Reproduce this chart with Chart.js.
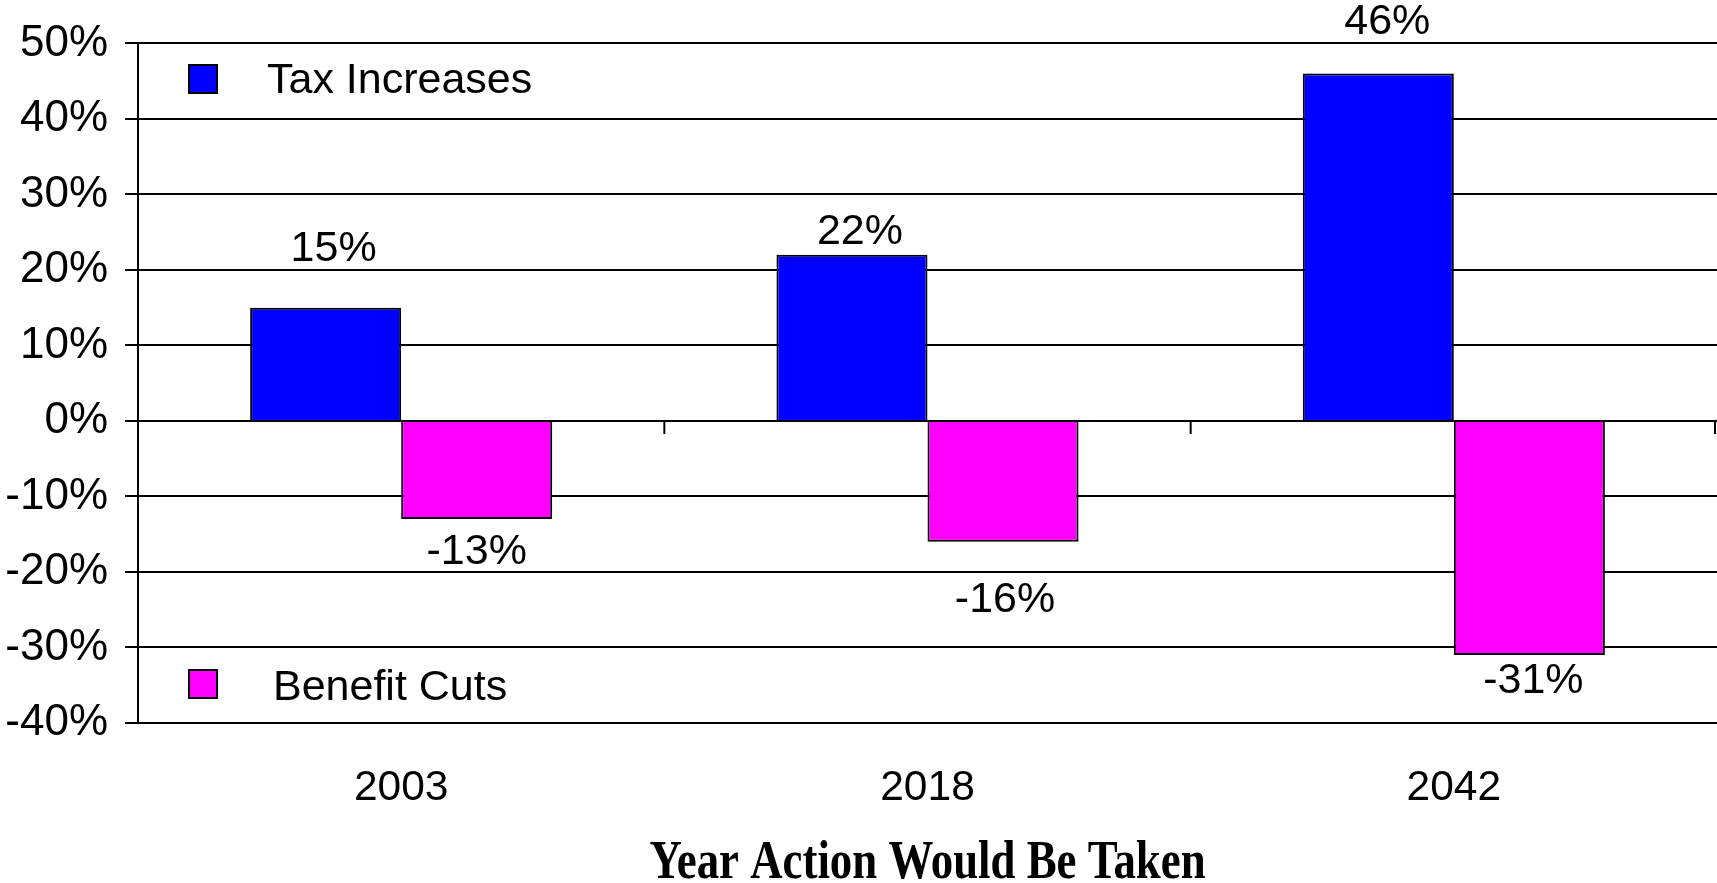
<!DOCTYPE html>
<html>
<head>
<meta charset="utf-8">
<script src="https://cdn.jsdelivr.net/npm/chart.js@4/dist/chart.umd.min.js"></script>
<style>
  html, body { margin: 0; padding: 0; background: #fff; }
</style>
</head>
<body>
<canvas id="chart" width="1717" height="883"></canvas>
<script>
// chart values
const years = ["2003", "2018", "2042"];
const taxIncreases = [15, 22, 46];
const benefitCuts = [-13, -16, -31];
const yTicks = [-40, -30, -20, -10, 0, 10, 20, 30, 40, 50];
const seriesNames = ["Tax Increases", "Benefit Cuts"];
const axisTitle = "Year Action Would Be Taken";

const sans = "'Liberation Sans', Arial, sans-serif";

// value labels, offset from the end of each bar (px)
const barLabels = {
    id: "barLabels",
    afterDatasetsDraw(chart, args, opts) {
        const ctx = chart.ctx;
        ctx.save();
        ctx.font = "43px " + sans;
        ctx.fillStyle = "#000";
        ctx.textAlign = "center";
        ctx.textBaseline = "middle";
        chart.data.datasets.forEach((ds, di) => {
            chart.getDatasetMeta(di).data.forEach((bar, i) => {
                const off = opts.offsets[di][i];
                ctx.fillText(ds.data[i] + "%", bar.x + off[0], bar.y + off[1]);
            });
        });
        ctx.restore();
    },
};

// small category tick marks hanging from the 0% line
const zeroTicks = {
    id: "zeroTicks",
    beforeDatasetsDraw(chart) {
        const { ctx, chartArea } = chart;
        const x = chart.scales.x;
        const y0 = chart.scales.y.getPixelForValue(0);
        const half = (x.getPixelForValue(1) - x.getPixelForValue(0)) / 2;
        ctx.save();
        ctx.strokeStyle = "#000";
        ctx.lineWidth = 2;
        years.forEach((yr, i) => {
            const px = Math.min(x.getPixelForValue(i) + half, chartArea.right - 2);
            ctx.beginPath();
            ctx.moveTo(px, y0);
            ctx.lineTo(px, y0 + 13);
            ctx.stroke();
        });
        ctx.restore();
    },
};

// legend entries sit inside the plot, one top-left and one bottom-left
const innerLegend = {
    id: "innerLegend",
    afterDraw(chart, args, opts) {
        const ctx = chart.ctx;
        ctx.save();
        ctx.font = "43px " + sans;
        ctx.textBaseline = "middle";
        ctx.textAlign = "left";
        chart.data.datasets.forEach((ds, di) => {
            const p = opts.items[di];
            ctx.fillStyle = ds.backgroundColor;
            ctx.fillRect(p.box[0], p.box[1], 28, 28);
            ctx.strokeStyle = "#000";
            ctx.lineWidth = 2;
            ctx.strokeRect(p.box[0], p.box[1], 28, 28);
            ctx.fillStyle = "#000";
            ctx.fillText(ds.label, p.text[0], p.text[1]);
        });
        ctx.restore();
    },
};

// bold serif axis title, squeezed like the original
const xTitle = {
    id: "xTitle",
    afterDraw(chart) {
        const { ctx, chartArea } = chart;
        const cx = (chartArea.left + chartArea.right) / 2;
        ctx.save();
        ctx.font = "bold 54px 'Liberation Serif', 'Times New Roman', serif";
        ctx.fillStyle = "#000";
        ctx.textAlign = "center";
        ctx.textBaseline = "alphabetic";
        ctx.translate(cx, 878);
        ctx.scale(0.83, 1);
        ctx.fillText(axisTitle, 0, 0);
        ctx.restore();
    },
};

const ctx = document.getElementById("chart").getContext("2d");
const chart = new Chart(ctx, {
    type: "bar",
    data: {
        labels: years,
        datasets: [
            {
                label: seriesNames[0],
                data: taxIncreases,
                backgroundColor: "#0000ff",
                borderColor: "#000",
                borderWidth: 2,
            },
            {
                label: seriesNames[1],
                data: benefitCuts,
                backgroundColor: "#ff00ff",
                borderColor: "#000",
                borderWidth: 2,
            },
        ],
    },
    plugins: [zeroTicks, barLabels, innerLegend, xTitle],
    options: {
        responsive: false,
        devicePixelRatio: 1,
        animation: false,
        categoryPercentage: 0.574,
        barPercentage: 1,
        layout: { padding: { top: 42, right: 0, bottom: 0, left: 0 } },
        scales: {
            x: {
                afterFit: (s) => { s.height = 160; },
                grid: { display: false, drawTicks: false },
                border: { display: false },
                ticks: {
                    color: "#000",
                    padding: 40,
                    font: { family: sans, size: 42.5 },
                },
            },
            y: {
                min: yTicks[0],
                max: yTicks[yTicks.length - 1],
                afterFit: (s) => { s.width = 138; },
                afterBuildTicks: (s) => { s.ticks = yTicks.map((v) => ({ value: v })); },
                grid: { color: "#000", lineWidth: 2, tickLength: 13 },
                border: { display: true, color: "#000", width: 2 },
                ticks: {
                    color: "#000",
                    padding: 17,
                    font: { family: sans, size: 44 },
                    callback: (v) => v + "%",
                },
            },
        },
        plugins: {
            legend: { display: false },
            tooltip: { enabled: false },
            barLabels: {
                offsets: [
                    [[8, -59], [8, -23], [9, -51]],
                    [[0, 33], [2, 58], [4, 26]],
                ],
            },
            innerLegend: {
                items: [
                    { box: [189, 65], text: [267, 81] },
                    { box: [189, 670], text: [273, 688] },
                ],
            },
        },
    },
});
</script>
</body>
</html>
